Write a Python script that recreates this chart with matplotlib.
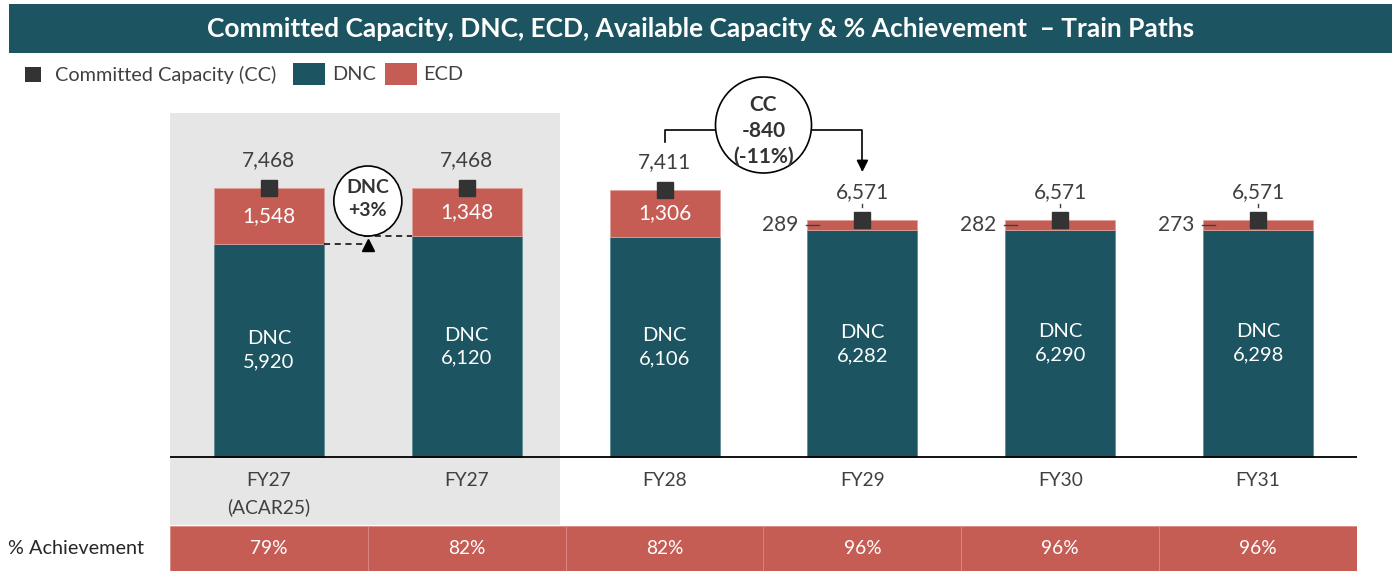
import matplotlib
matplotlib.use("Agg")
from matplotlib import pyplot as plt
from matplotlib.patches import Rectangle, Ellipse

# Data
categories = ["FY27\n(ACAR25)", "FY27", "FY28", "FY29", "FY30", "FY31"]
dnc = [5920, 6120, 6106, 6282, 6290, 6298]
ecd = [1548, 1348, 1306, 289, 282, 273]
committed = [7468, 7468, 7411, 6571, 6571, 6571]
achievement = ["79%", "82%", "82%", "96%", "96%", "96%"]

TEAL = "#1C5561"
RED = "#C55D55"
GREY_BG = "#E6E6E6"
MARKER = "#333333"
TXT = "#404040"

W, H = 1394, 572
plt.rcParams["font.family"] = ["Lato", "DejaVu Sans"]


def fx(x):
    return x / W


def fy(y):
    return 1 - y / H


fig = plt.figure(figsize=(W / 100, H / 100), dpi=100)

# title bar
fig.add_artist(Rectangle((fx(9), fy(53)), fx(1392 - 9), (53 - 4) / H,
                         transform=fig.transFigure, color=TEAL, lw=0))
fig.text(fx(701), fy(29), "Committed Capacity, DNC, ECD, Available Capacity & % Achievement  \u2013 Train Paths",
         color="white", fontsize=19, fontweight="bold", ha="center", va="center")

# legend (drawn by hand so it sits exactly like the original)
fig.add_artist(Rectangle((fx(25), fy(82)), fx(16), 15 / H, transform=fig.transFigure, color=MARKER, lw=0))
fig.text(fx(55), fy(75), "Committed Capacity (CC)", fontsize=14.3, color=TXT, va="center")
fig.add_artist(Rectangle((fx(293), fy(85)), fx(32), 22 / H, transform=fig.transFigure, color=TEAL, lw=0))
fig.text(fx(332), fy(75), "DNC", fontsize=14.3, color=TXT, va="center")
fig.add_artist(Rectangle((fx(385), fy(85)), fx(32), 22 / H, transform=fig.transFigure, color=RED, lw=0))
fig.text(fx(423), fy(75), "ECD", fontsize=14.3, color=TXT, va="center")

# main axes
ax = fig.add_axes([fx(170), fy(525), fx(1357 - 170), (525 - 113) / H])
px_per_unit = (457 - 187.7) / 7468
unit = 1 / px_per_unit  # data units per pixel
ax.set_xlim(-0.5, 5.5)
ax.set_ylim(-(525 - 457) * unit, (457 - 113) * unit)
ax.axis("off")

ax.axvspan(-0.5, 1.47, color=GREY_BG, lw=0, zorder=0)
ax.axhline(0, color="black", lw=1.3, zorder=3)

x = list(range(len(categories)))
bw = 110 / 197.8
ax.bar(x, dnc, width=bw, color=TEAL, edgecolor="#5f8c94", lw=0.6, zorder=2)
ax.bar(x, ecd, width=bw, bottom=dnc, color=RED, edgecolor="#e0a09a", lw=0.6, zorder=2)
ax.plot(x, committed, ls="none", marker="s", ms=11, color=MARKER, zorder=4)

xpx = 1 / 197.8  # data units per pixel on x
for i in x:
    # committed capacity label
    ax.text(i, committed[i] + 28 * unit, f"{committed[i]:,}", fontsize=15, color=TXT,
            ha="center", va="center", zorder=5)
    # DNC label
    ax.text(i, dnc[i] / 2, f"DNC\n{dnc[i]:,}", fontsize=14.5, color="white",
            ha="center", va="center", linespacing=1.45, zorder=5)
    # ECD label
    if ecd[i] > 600:
        ax.text(i, dnc[i] + ecd[i] / 2, f"{ecd[i]:,}", fontsize=15, color="white",
                ha="center", va="center", zorder=5)
    else:
        left = i - bw / 2
        ymid = dnc[i] + ecd[i] / 2
        ax.plot([left - 1 * xpx, left + 12 * xpx], [ymid, ymid], color=TXT, lw=1, zorder=5)
        ax.text(left - 9 * xpx, ymid, f"{ecd[i]:,}", fontsize=15, color=TXT,
                ha="right", va="center", zorder=5)
        ax.plot([i, i], [committed[i] + 13 * unit, committed[i] + 16 * unit], color=TXT, lw=1, zorder=5)
    # category labels
    for k, line in enumerate(categories[i].split("\n")):
        ax.text(i, -(23 + 27 * k) * unit, line, fontsize=13.8, color=TXT, ha="center", va="center")

# DNC +3% annotation
ax.add_patch(Ellipse((0.5, (457 - 201) * unit), 68 * xpx, 70 * unit,
                     facecolor="white", edgecolor="black", lw=1.2, zorder=6))
ax.text(0.5, (457 - 199) * unit, "DNC\n+3%", fontsize=14, fontweight="bold", color="#333333",
        ha="center", va="center", linespacing=1.4, zorder=7)
ax.plot([bw / 2, 0.5 - 4 * xpx], [dnc[0], dnc[0]], color="black", lw=1.1, ls=(0, (4, 3)), zorder=5)
ax.plot([0.5 - 4 * xpx, 1 - bw / 2], [dnc[1], dnc[1]], color="black", lw=1.1, ls=(0, (4, 3)), zorder=5)
ax.plot([0.5], [dnc[0] - 1 * unit], ls="none", marker="^", ms=9, color="black", zorder=6)

# CC -840 annotation
cy = (457 - 125) * unit
ax.add_patch(Ellipse((2.5, cy), 96 * xpx, 96 * unit, facecolor="white",
                     edgecolor="black", lw=1.2, zorder=6, clip_on=False))
ax.text(2.5, (457 - 131) * unit, "CC\n-840\n(-11%)", fontsize=15, fontweight="bold", color="#333333",
        ha="center", va="center", linespacing=1.35, zorder=7, clip_on=False)
ybr = (457 - 130) * unit
ax.plot([2, 2, 2.5 - 48 * xpx], [(457 - 142) * unit, ybr, ybr], color="black", lw=1.2,
        clip_on=False, zorder=5)
ax.annotate("", xy=(3, (457 - 172) * unit), xytext=(2.5 + 48 * xpx, ybr),
            arrowprops=dict(arrowstyle="-|>,head_length=0.7,head_width=0.35", color="black", lw=1.2,
                            connectionstyle="angle,angleA=0,angleB=90,rad=0",
                            shrinkA=0, shrinkB=0),
            annotation_clip=False, zorder=5)

# % achievement row
ax2 = fig.add_axes([fx(170), fy(571), fx(1357 - 170), (571 - 526) / H])
ax2.set_xlim(-0.5, 5.5)
ax2.set_ylim(0, 1)
ax2.axis("off")
for i, val in enumerate(achievement):
    ax2.add_patch(Rectangle((i - 0.5, 0), 1, 1, facecolor=RED, edgecolor="#d98a83", lw=0.6))
    ax2.text(i, 0.5, val, color="white", fontsize=13.8, ha="center", va="center")
fig.text(fx(8), fy(549), "% Achievement", fontsize=14.3, color="#262626", va="center")

plt.savefig("out.png", dpi=100)
plt.close()
